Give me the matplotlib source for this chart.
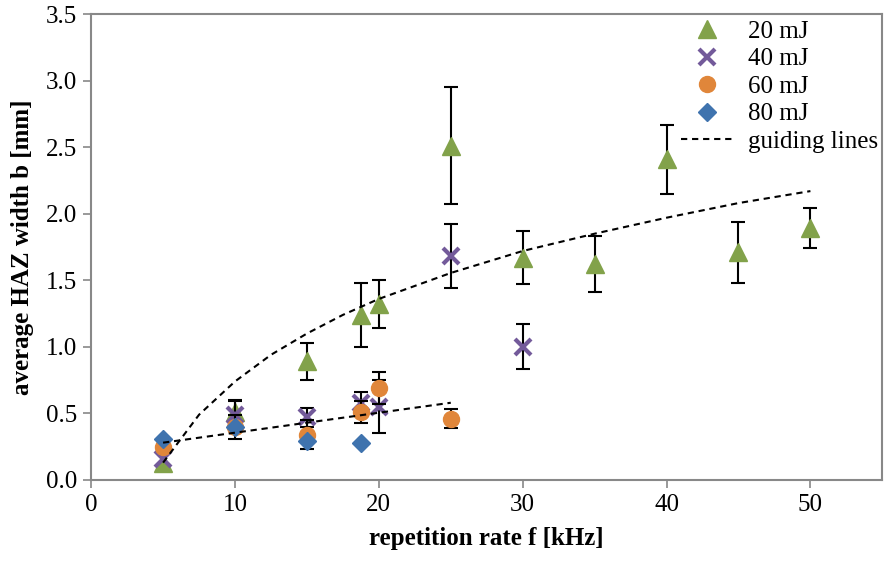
import numpy as np
import matplotlib.pyplot as plt
from matplotlib import rcParams
from matplotlib.lines import Line2D

rcParams['font.family'] = 'serif'
rcParams['font.serif'] = ['Liberation Serif', 'DejaVu Serif']
rcParams['xtick.direction'] = 'out'
rcParams['ytick.direction'] = 'out'

#%% data (nan = no visible error bar)
f20 = [5, 10, 15, 18.75, 20, 25, 30, 35, 40, 45, 50]
b20 = [0.13, 0.51, 0.89, 1.24, 1.32, 2.51, 1.67, 1.62, 2.41, 1.71, 1.89]
e20 = [np.nan, 0.09, 0.14, 0.24, 0.18, 0.44, 0.20, 0.21, 0.26, 0.23, 0.15]

f40 = [5, 10, 15, 18.75, 20, 25, 30]
b40 = [0.16, 0.49, 0.47, 0.58, 0.55, 1.68, 1.00]
e40 = [np.nan, 0.10, 0.07, 0.08, 0.20, 0.24, 0.17]

f60 = [5, 10, 15, 18.75, 20, 25]
b60 = [0.25, 0.40, 0.34, 0.51, 0.69, 0.46]
e60 = [np.nan, 0.09, 0.11, 0.08, 0.12, 0.07]

f80 = [5, 10, 15, 18.75]
b80 = [0.31, 0.40, 0.29, 0.28]

# guiding lines
gf_hi = [5, 7.5, 10, 12.5, 15, 17.5, 20, 25, 30, 35, 40, 45, 50]
gb_hi = [0.13, 0.49, 0.74, 0.94, 1.10, 1.24, 1.36, 1.555, 1.72, 1.85, 1.97, 2.08, 2.17]
gf_lo = [5, 25]
gb_lo = [0.28, 0.58]

#%%
fig, ax = plt.subplots(figsize=(8.85, 5.62), dpi=100)
fig.subplots_adjust(left=0.103, bottom=0.146, right=0.997, top=0.975)

c20, c40, c60, c80 = '#82A24A', '#735A9A', '#E0863A', '#3F73AE'
ekw = dict(fmt='none', ecolor='k', elinewidth=1.5, capsize=5, capthick=1.5)
dash = (0, (3, 2.3))

ax.errorbar(f20, b20, yerr=e20, zorder=1.5, **ekw)
ax.plot(f20, b20, '^', ms=13, color=c20, zorder=2)
ax.errorbar(f40, b40, yerr=e40, zorder=2.5, **ekw)
ax.plot(f40, b40, 'x', ms=11, mew=3, color=c40, zorder=3)
ax.errorbar(f60, b60, yerr=e60, zorder=3.5, **ekw)
ax.plot(f60, b60, 'o', ms=11.5, color=c60, zorder=4)
ax.plot(f80, b80, 'D', ms=9.5, color=c80, zorder=5)

ax.plot(gf_hi, gb_hi, color='k', lw=1.5, linestyle=dash, zorder=6)
ax.plot(gf_lo, gb_lo, color='k', lw=1.5, linestyle=dash, zorder=6)

ax.set_xlim(0, 55)
ax.set_ylim(0, 3.5)
ax.set_xticks(np.arange(0, 51, 10))
ax.set_yticks(np.arange(0, 3.51, 0.5))
ax.yaxis.set_major_formatter(plt.FormatStrFormatter('%.1f'))
ax.tick_params(labelsize=18, color='#888888', length=6, width=1.2, pad=4)

for sp in ax.spines.values():
    sp.set_color('#888888')
    sp.set_linewidth(1.5)

ax.set_xlabel('repetition rate f [kHz]', fontsize=18, fontweight='bold', labelpad=8)
ax.set_ylabel('average HAZ width b [mm]', fontsize=18, fontweight='bold', labelpad=9)

handles = [
    Line2D([], [], marker='^', ms=13, color=c20, linestyle='none'),
    Line2D([], [], marker='x', ms=11, mew=3, color=c40, linestyle='none'),
    Line2D([], [], marker='o', ms=11.5, color=c60, linestyle='none'),
    Line2D([], [], marker='D', ms=9.5, color=c80, linestyle='none'),
    Line2D([], [], color='k', lw=1.5, linestyle=dash),
]
labels = ['20 mJ', '40 mJ', '60 mJ', '80 mJ', 'guiding lines']
ax.legend(handles, labels, loc='upper right', bbox_to_anchor=(1.003, 1.0),
          frameon=False, fontsize=18, handlelength=2.1, handletextpad=0.6,
          labelspacing=0.2, borderaxespad=0.0, borderpad=0.25)

fig.savefig('out.png', dpi=100)
